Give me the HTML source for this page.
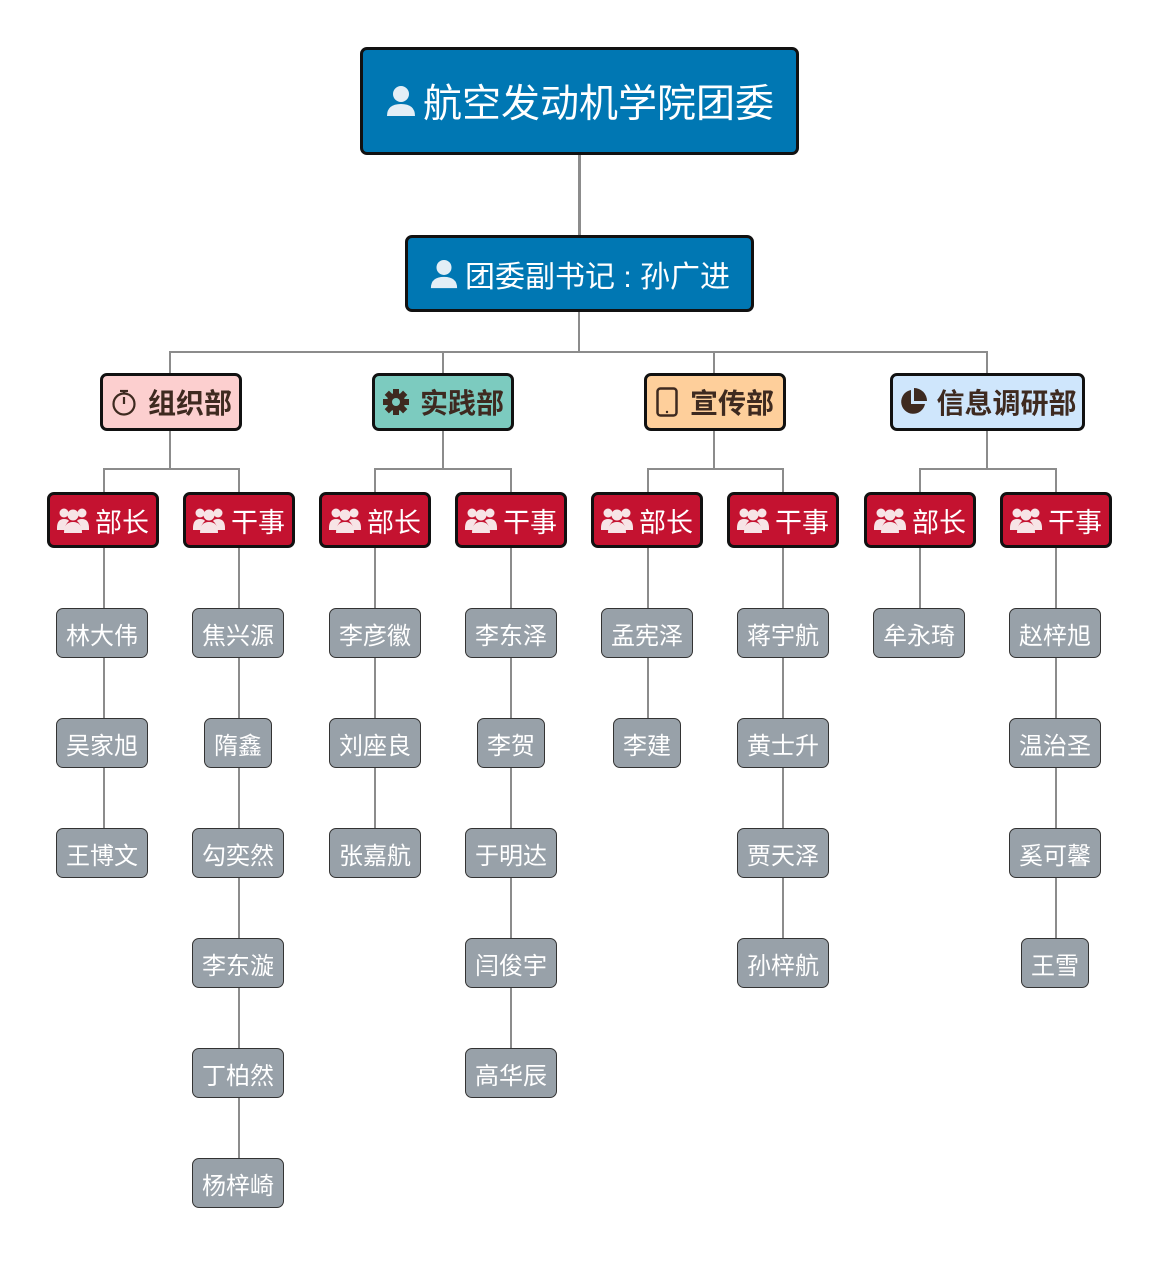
<!DOCTYPE html>
<html><head><meta charset="utf-8"><style>
body{margin:0;width:1165px;height:1261px;background:#fff;position:relative;overflow:hidden;font-family:"Liberation Sans","Noto Sans CJK SC",sans-serif}
.l{position:absolute;background:#8c8c8c}
.b{position:absolute;box-sizing:border-box;border:3px solid #111;border-radius:7px;display:flex;align-items:center;justify-content:center}
.top{background:#0077b3;color:#fff}
.dep{color:#3e2a20;font-weight:bold;font-size:28px}
.r{background:#c41230;color:#fff;font-size:27px;height:56px;top:492px;width:112px}
.p{position:absolute;box-sizing:border-box;border:1.5px solid #333;border-radius:7px;background:#98a1a9;color:#fff;font-size:24px;height:50px;display:flex;align-items:center;justify-content:center;transform:translateX(-50%)}
svg{flex:none}
</style></head><body>
<div class="l" style="left:578px;top:154px;width:3px;height:82px"></div>
<div class="l" style="left:578px;top:311px;width:2px;height:41px"></div>
<div class="l" style="left:169px;top:351px;width:819px;height:2px"></div>
<div class="l" style="left:169px;top:351px;width:2px;height:22px"></div>
<div class="l" style="left:442px;top:351px;width:2px;height:22px"></div>
<div class="l" style="left:713px;top:351px;width:2px;height:22px"></div>
<div class="l" style="left:986px;top:351px;width:2px;height:22px"></div>

<div class="l" style="left:169px;top:430px;width:2px;height:39px"></div>
<div class="l" style="left:103px;top:468px;width:137px;height:2px"></div>
<div class="l" style="left:103px;top:468px;width:2px;height:24px"></div>
<div class="l" style="left:238px;top:468px;width:2px;height:24px"></div>
<div class="l" style="left:442px;top:430px;width:2px;height:39px"></div>
<div class="l" style="left:374px;top:468px;width:138px;height:2px"></div>
<div class="l" style="left:374px;top:468px;width:2px;height:24px"></div>
<div class="l" style="left:510px;top:468px;width:2px;height:24px"></div>
<div class="l" style="left:713px;top:430px;width:2px;height:39px"></div>
<div class="l" style="left:647px;top:468px;width:137px;height:2px"></div>
<div class="l" style="left:647px;top:468px;width:2px;height:24px"></div>
<div class="l" style="left:782px;top:468px;width:2px;height:24px"></div>
<div class="l" style="left:986px;top:430px;width:2px;height:39px"></div>
<div class="l" style="left:919px;top:468px;width:138px;height:2px"></div>
<div class="l" style="left:919px;top:468px;width:2px;height:24px"></div>
<div class="l" style="left:1055px;top:468px;width:2px;height:24px"></div>

<div class="l" style="left:103px;top:547px;width:2px;height:282px"></div>
<div class="l" style="left:238px;top:547px;width:2px;height:612px"></div>
<div class="l" style="left:374px;top:547px;width:2px;height:282px"></div>
<div class="l" style="left:510px;top:547px;width:2px;height:502px"></div>
<div class="l" style="left:647px;top:547px;width:2px;height:172px"></div>
<div class="l" style="left:782px;top:547px;width:2px;height:392px"></div>
<div class="l" style="left:919px;top:547px;width:2px;height:62px"></div>
<div class="l" style="left:1055px;top:547px;width:2px;height:392px"></div>

<div class="b top" style="left:360px;top:47px;width:439px;height:108px;font-size:39px">
<svg width="32" height="34" viewBox="0 0 32 34" style="margin-right:6px"><circle cx="16" cy="10" r="8" fill="#e3eef6"/><path d="M2 32 Q2 20 16 20 Q30 20 30 32Z" fill="#e3eef6"/></svg>航空发动机学院团委</div>
<div class="b top" style="left:405px;top:235px;width:349px;height:77px;font-size:30px">
<svg width="30" height="32" viewBox="0 0 32 34" style="margin-right:6px"><circle cx="16" cy="10" r="8" fill="#e3eef6"/><path d="M2 32 Q2 20 16 20 Q30 20 30 32Z" fill="#e3eef6"/></svg>团委副书记 : 孙广进</div>

<div class="b dep" style="left:100px;top:373px;width:142px;height:58px;background:#fccfcf">
<svg width="28" height="28" viewBox="0 0 28 28" style="margin-right:10px"><circle cx="14" cy="16" r="10.5" fill="none" stroke="#3e2a20" stroke-width="2.2"/><line x1="14" y1="16" x2="14" y2="9" stroke="#3e2a20" stroke-width="2.2"/><line x1="10" y1="3" x2="18" y2="3" stroke="#3e2a20" stroke-width="2.2"/><line x1="14" y1="3" x2="14" y2="6" stroke="#3e2a20" stroke-width="2.2"/></svg>组织部</div>
<div class="b dep" style="left:372px;top:373px;width:142px;height:58px;background:#7ccbbf">
<svg width="28" height="28" viewBox="0 0 28 28" style="margin-right:10px"><g fill="#3e2a20"><circle cx="14" cy="14" r="9"/><rect x="11" y="1" width="6" height="26"/><rect x="1" y="11" width="26" height="6"/><rect x="11" y="1" width="6" height="26" transform="rotate(45 14 14)"/><rect x="11" y="1" width="6" height="26" transform="rotate(-45 14 14)"/></g><circle cx="14" cy="14" r="4" fill="#7ccbbf"/></svg>实践部</div>
<div class="b dep" style="left:644px;top:373px;width:142px;height:58px;background:#fecf9b">
<svg width="22" height="30" viewBox="0 0 22 30" style="margin-right:12px"><rect x="1.5" y="1.5" width="19" height="27" rx="3" fill="none" stroke="#3e2a20" stroke-width="2.5"/><circle cx="11" cy="25" r="1.2" fill="#3e2a20"/></svg>宣传部</div>
<div class="b dep" style="left:890px;top:373px;width:195px;height:58px;background:#cfe6fc">
<svg width="30" height="30" viewBox="0 0 30 30" style="margin-right:8px"><path d="M13 3 A12 12 0 1 0 27 17 L13 17Z" fill="#3e2a20"/><path d="M16 1 A13 13 0 0 1 29 14 L16 14Z" fill="#3e2a20"/></svg>信息调研部</div>

<svg width="0" height="0" style="position:absolute"><defs><g id="grp" fill="#f7e4e6"><circle cx="7" cy="7" r="4.5"/><circle cx="25" cy="7" r="4.5"/><circle cx="16" cy="9" r="5.5"/><path d="M0 22 Q0 13 7 13 Q11 13 12 15 Q8 18 8 24 L0 24Z"/><path d="M32 22 Q32 13 25 13 Q21 13 20 15 Q24 18 24 24 L32 24Z"/><path d="M7 27 Q7 16 16 16 Q25 16 25 27Z"/></g></defs></svg>
<div class="b r" style="left:47px"><svg width="32" height="28" style="margin-right:6px"><use href="#grp"/></svg>部长</div>
<div class="b r" style="left:183px"><svg width="32" height="28" style="margin-right:6px"><use href="#grp"/></svg>干事</div>
<div class="b r" style="left:319px"><svg width="32" height="28" style="margin-right:6px"><use href="#grp"/></svg>部长</div>
<div class="b r" style="left:455px"><svg width="32" height="28" style="margin-right:6px"><use href="#grp"/></svg>干事</div>
<div class="b r" style="left:591px"><svg width="32" height="28" style="margin-right:6px"><use href="#grp"/></svg>部长</div>
<div class="b r" style="left:727px"><svg width="32" height="28" style="margin-right:6px"><use href="#grp"/></svg>干事</div>
<div class="b r" style="left:864px"><svg width="32" height="28" style="margin-right:6px"><use href="#grp"/></svg>部长</div>
<div class="b r" style="left:1000px"><svg width="32" height="28" style="margin-right:6px"><use href="#grp"/></svg>干事</div>

<div class="p" style="left:102px;top:608px;width:92px">林大伟</div>
<div class="p" style="left:102px;top:718px;width:92px">吴家旭</div>
<div class="p" style="left:102px;top:828px;width:92px">王博文</div>

<div class="p" style="left:238px;top:608px;width:92px">焦兴源</div>
<div class="p" style="left:238px;top:718px;width:68px">隋鑫</div>
<div class="p" style="left:238px;top:828px;width:92px">勾奕然</div>
<div class="p" style="left:238px;top:938px;width:92px">李东漩</div>
<div class="p" style="left:238px;top:1048px;width:92px">丁柏然</div>
<div class="p" style="left:238px;top:1158px;width:92px">杨梓崎</div>

<div class="p" style="left:375px;top:608px;width:92px">李彦徽</div>
<div class="p" style="left:375px;top:718px;width:92px">刘座良</div>
<div class="p" style="left:375px;top:828px;width:92px">张嘉航</div>

<div class="p" style="left:511px;top:608px;width:92px">李东泽</div>
<div class="p" style="left:511px;top:718px;width:68px">李贺</div>
<div class="p" style="left:511px;top:828px;width:92px">于明达</div>
<div class="p" style="left:511px;top:938px;width:92px">闫俊宇</div>
<div class="p" style="left:511px;top:1048px;width:92px">高华辰</div>

<div class="p" style="left:647px;top:608px;width:92px">孟宪泽</div>
<div class="p" style="left:647px;top:718px;width:68px">李建</div>

<div class="p" style="left:783px;top:608px;width:92px">蒋宇航</div>
<div class="p" style="left:783px;top:718px;width:92px">黄士升</div>
<div class="p" style="left:783px;top:828px;width:92px">贾天泽</div>
<div class="p" style="left:783px;top:938px;width:92px">孙梓航</div>

<div class="p" style="left:919px;top:608px;width:92px">牟永琦</div>

<div class="p" style="left:1055px;top:608px;width:92px">赵梓旭</div>
<div class="p" style="left:1055px;top:718px;width:92px">温治圣</div>
<div class="p" style="left:1055px;top:828px;width:92px">奚可馨</div>
<div class="p" style="left:1055px;top:938px;width:68px">王雪</div>
</body></html>
